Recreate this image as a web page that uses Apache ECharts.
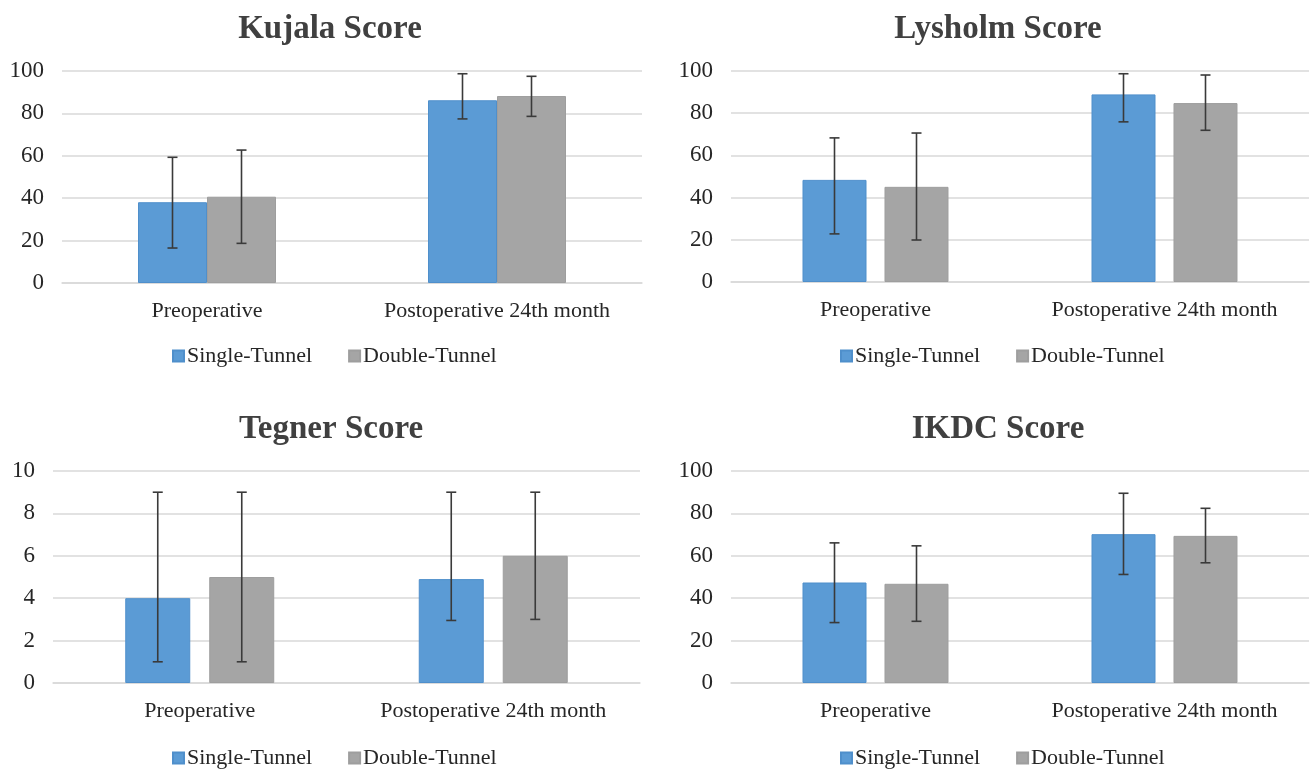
<!DOCTYPE html>
<html>
<head>
<meta charset="utf-8">
<script src="https://cdn.jsdelivr.net/npm/echarts@6/dist/echarts.min.js"></script>
<style>
html,body{margin:0;padding:0;background:#fff;}
#chart{width:1311px;height:771px;}
</style>
</head>
<body>
<div id="chart"></div>
<script>
// ---------- data ----------
const categories = ['Preoperative', 'Postoperative 24th month'];
const seriesNames = ['Single-Tunnel', 'Double-Tunnel'];
const panelTitles = ['Kujala Score', 'Lysholm Score', 'Tegner Score', 'IKDC Score'];

const kujalaSingle = [38.1, 86.2];
const kujalaSingleLow = [16.5, 77.4];
const kujalaSingleHigh = [59.3, 98.7];
const kujalaDouble = [40.7, 88.2];
const kujalaDoubleLow = [18.7, 78.6];
const kujalaDoubleHigh = [62.7, 97.5];

const lysholmSingle = [48.4, 88.9];
const lysholmSingleLow = [22.8, 75.9];
const lysholmSingleHigh = [68.3, 98.7];
const lysholmDouble = [45.1, 84.8];
const lysholmDoubleLow = [19.9, 71.9];
const lysholmDoubleHigh = [70.6, 98.1];

const tegnerSingle = [4.0, 4.9];
const tegnerSingleLow = [1.0, 2.95];
const tegnerSingleHigh = [9.0, 9.0];
const tegnerDouble = [5.0, 6.0];
const tegnerDoubleLow = [1.0, 3.0];
const tegnerDoubleHigh = [9.0, 9.0];

const ikdcSingle = [47.4, 70.2];
const ikdcSingleLow = [28.5, 51.2];
const ikdcSingleHigh = [66.1, 89.5];
const ikdcDouble = [46.8, 69.4];
const ikdcDoubleLow = [29.1, 56.7];
const ikdcDoubleHigh = [64.7, 82.4];

const yMax = [100, 100, 10, 100];
const yInterval = [20, 20, 2, 20];

// ---------- layout / style ----------
const BLUE = '#5B9BD5', GRAY = '#A5A5A5', GRID = '#D9D9D9', TXT = '#262626';
const FONT = '"Liberation Serif", "DejaVu Serif", serif';

const panels = [
  {single: kujalaSingle, sLow: kujalaSingleLow, sHigh: kujalaSingleHigh,
   dbl: kujalaDouble, dLow: kujalaDoubleLow, dHigh: kujalaDoubleHigh,
   grid: {left: 62, top: 71, width: 580, height: 212}, barW: 69, gapPx: 0,
   titleX: 325, titleY: 8, legendTop: 345, legendX: 172},
  {single: lysholmSingle, sLow: lysholmSingleLow, sHigh: lysholmSingleHigh,
   dbl: lysholmDouble, dLow: lysholmDoubleLow, dHigh: lysholmDoubleHigh,
   grid: {left: 731, top: 71, width: 578, height: 211}, barW: 64, gapPx: 18,
   titleX: 993, titleY: 8, legendTop: 345, legendX: 840},
  {single: tegnerSingle, sLow: tegnerSingleLow, sHigh: tegnerSingleHigh,
   dbl: tegnerDouble, dLow: tegnerDoubleLow, dHigh: tegnerDoubleHigh,
   grid: {left: 53, top: 471, width: 587, height: 212}, barW: 65, gapPx: 19,
   titleX: 326, titleY: 408, legendTop: 747, legendX: 172},
  {single: ikdcSingle, sLow: ikdcSingleLow, sHigh: ikdcSingleHigh,
   dbl: ikdcDouble, dLow: ikdcDoubleLow, dHigh: ikdcDoubleHigh,
   grid: {left: 731, top: 471, width: 578, height: 212}, barW: 64, gapPx: 18,
   titleX: 993, titleY: 408, legendTop: 747, legendX: 840}
];

function errSeries(idx, low, high, offset) {
  return {
    type: 'custom',
    xAxisIndex: idx, yAxisIndex: idx,
    z: 10, silent: true,
    encode: {x: 0, y: [1, 2]},
    data: categories.map((c, i) => [i, low[i], high[i]]),
    renderItem: function (params, api) {
      const ci = api.value(0);
      const pLow = api.coord([ci, api.value(1)]);
      const pHigh = api.coord([ci, api.value(2)]);
      const x = pLow[0] + offset;
      const cap = 5;
      const style = {stroke: '#3a3a3a', lineWidth: 1.6};
      return {
        type: 'group',
        children: [
          {type: 'line', shape: {x1: x, y1: pLow[1], x2: x, y2: pHigh[1]}, style: style},
          {type: 'line', shape: {x1: x - cap, y1: pLow[1], x2: x + cap, y2: pLow[1]}, style: style},
          {type: 'line', shape: {x1: x - cap, y1: pHigh[1], x2: x + cap, y2: pHigh[1]}, style: style}
        ]
      };
    }
  };
}

const option = {
  backgroundColor: '#fff',
  animation: false,
  title: [], legend: [], grid: [], xAxis: [], yAxis: [], series: []
};

panels.forEach((p, i) => {
  option.title.push({
    text: panelTitles[i], left: p.titleX, top: p.titleY, textAlign: 'center',
    textStyle: {fontFamily: FONT, fontWeight: 'bold', fontSize: 33, color: '#404040'}
  });
  option.grid.push(Object.assign({containLabel: false}, p.grid));
  option.xAxis.push({
    type: 'category', gridIndex: i, data: categories,
    axisLine: {show: true, lineStyle: {color: GRID, width: 1.5}},
    axisTick: {show: false},
    axisLabel: {interval: 0, hideOverlap: false, fontFamily: FONT, fontSize: 22, color: TXT, margin: 17}
  });
  option.yAxis.push({
    type: 'value', gridIndex: i, min: 0, max: yMax[i], interval: yInterval[i],
    axisLine: {show: false}, axisTick: {show: false},
    splitLine: {show: true, lineStyle: {color: GRID, width: 1.5}},
    axisLabel: {fontFamily: FONT, fontSize: 23, color: TXT, margin: 18}
  });
  const gapPct = (p.gapPx / p.barW * 100).toFixed(1) + '%';
  option.series.push({
    name: seriesNames[0], type: 'bar', xAxisIndex: i, yAxisIndex: i,
    data: p.single, barWidth: p.barW, barGap: gapPct,
    itemStyle: {color: BLUE, borderColor: '#4F8FCB', borderWidth: 1}
  });
  option.series.push({
    name: seriesNames[1], type: 'bar', xAxisIndex: i, yAxisIndex: i,
    data: p.dbl, barWidth: p.barW, barGap: gapPct,
    itemStyle: {color: GRAY, borderColor: '#9E9E9E', borderWidth: 1}
  });
  const off = (p.barW + p.gapPx) / 2;
  option.series.push(errSeries(i, p.sLow, p.sHigh, -off));
  option.series.push(errSeries(i, p.dLow, p.dHigh, off));
  option.legend.push({
    data: seriesNames, left: p.legendX, top: p.legendTop, width: 460,
    orient: 'horizontal', itemWidth: 11, itemHeight: 11, itemGap: 36,
    icon: 'rect', selectedMode: false, padding: 0,
    textStyle: {fontFamily: FONT, fontSize: 22, color: TXT, padding: [0, 0, 0, -2]}
  });
});

const chart = echarts.init(document.getElementById('chart'));
chart.setOption(option);
</script>
</body>
</html>
